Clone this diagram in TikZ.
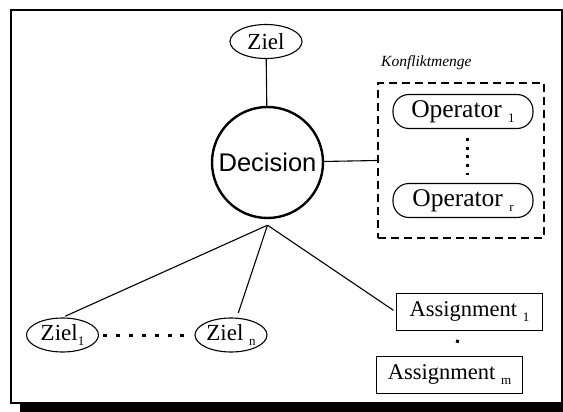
\documentclass[tikz,border=0pt]{standalone}
\usepackage{fontspec}
\setmainfont{Liberation Serif}
\setsansfont{Liberation Sans}
\usetikzlibrary{shapes.geometric}

\newcommand{\low}[1]{\raisebox{-5pt}{\fontsize{13}{13}\selectfont #1}}

\tikzset{
  ziel/.style={draw, ellipse, line width=1.1pt, inner sep=0pt, minimum width=72pt, minimum height=34pt, font=\fontsize{23}{26}\selectfont},
  oper/.style={draw, rectangle, rounded corners=16pt, line width=1.1pt, inner sep=0pt, minimum width=140pt, minimum height=34pt, font=\fontsize{25.5}{28}\selectfont},
  assign/.style={draw, rectangle, line width=1.1pt, inner sep=0pt, minimum width=146pt, minimum height=37pt, font=\fontsize{22.5}{26}\selectfont},
  dotline/.style={line width=3pt, dash pattern=on 3pt off 5.7pt},
  link/.style={line width=1.1pt}
}

\begin{document}
\begin{tikzpicture}[x=1pt, y=-1pt]
\useasboundingbox (0,0) rectangle (563,412);
% frame with shadow
\draw[line width=2pt] (11,10) rectangle (562,403);
\fill (20,403) rectangle (563,412);

\node[ziel] (ziel) at (266,41.5) {Ziel};
\node[draw, circle, line width=2.4pt, inner sep=0pt, minimum size=111pt, font=\sffamily\fontsize{25.5}{28}\selectfont] (dec) at (267.5,162.5) {Decision};
\coordinate (hub) at ([yshift=-6pt]dec.south);

% Konfliktmenge
\node[draw, dashed, dash pattern=on 8pt off 5pt, line width=1.2pt, minimum width=166pt, minimum height=155pt] (konf) at (461,160.5) {};
\node[anchor=base west, inner sep=0pt, font=\itshape\fontsize{15.5}{18}\selectfont] (konflabel) at (381,67) {Konfliktmenge};
\node[oper] (op1) at (463,111.5) {Operator \low{1}};
\node[oper] (opr) at (463,200.5) {Operator \low{r}};

% goals and assignments
\node[ziel] (z1) at (62.5,335) {Ziel\low{1}};
\node[ziel] (zn) at (231,335) {Ziel \low{n}};
\node[assign] (a1) at (469.5,312) {Assignment \low{1}};
\node[assign] (am) at (449.5,375) {Assignment \low{m}};

\draw[link] (ziel) -- (dec);
\draw[link] (dec) -- (konf.west);
\draw[link, shorten >=3pt] (hub) -- (z1.north);
\draw[link, shorten >=5pt] (hub) -- (zn);
\draw[link, shorten >=3pt] (hub) -- (a1.west);

\draw[dotline, shorten <=9pt, shorten >=8pt] ([xshift=4pt]op1.south) -- ([xshift=4pt]opr.north);
\draw[line width=3pt, dash pattern=on 4pt off 8.9pt, shorten <=4pt, shorten >=2pt] (z1.east) -- (zn.west);
\draw[line width=3pt, dash pattern=on 0pt off 9pt on 3pt off 40pt] ([xshift=-10pt]a1.south) -- ([xshift=5pt]am.north);
\end{tikzpicture}
\end{document}
